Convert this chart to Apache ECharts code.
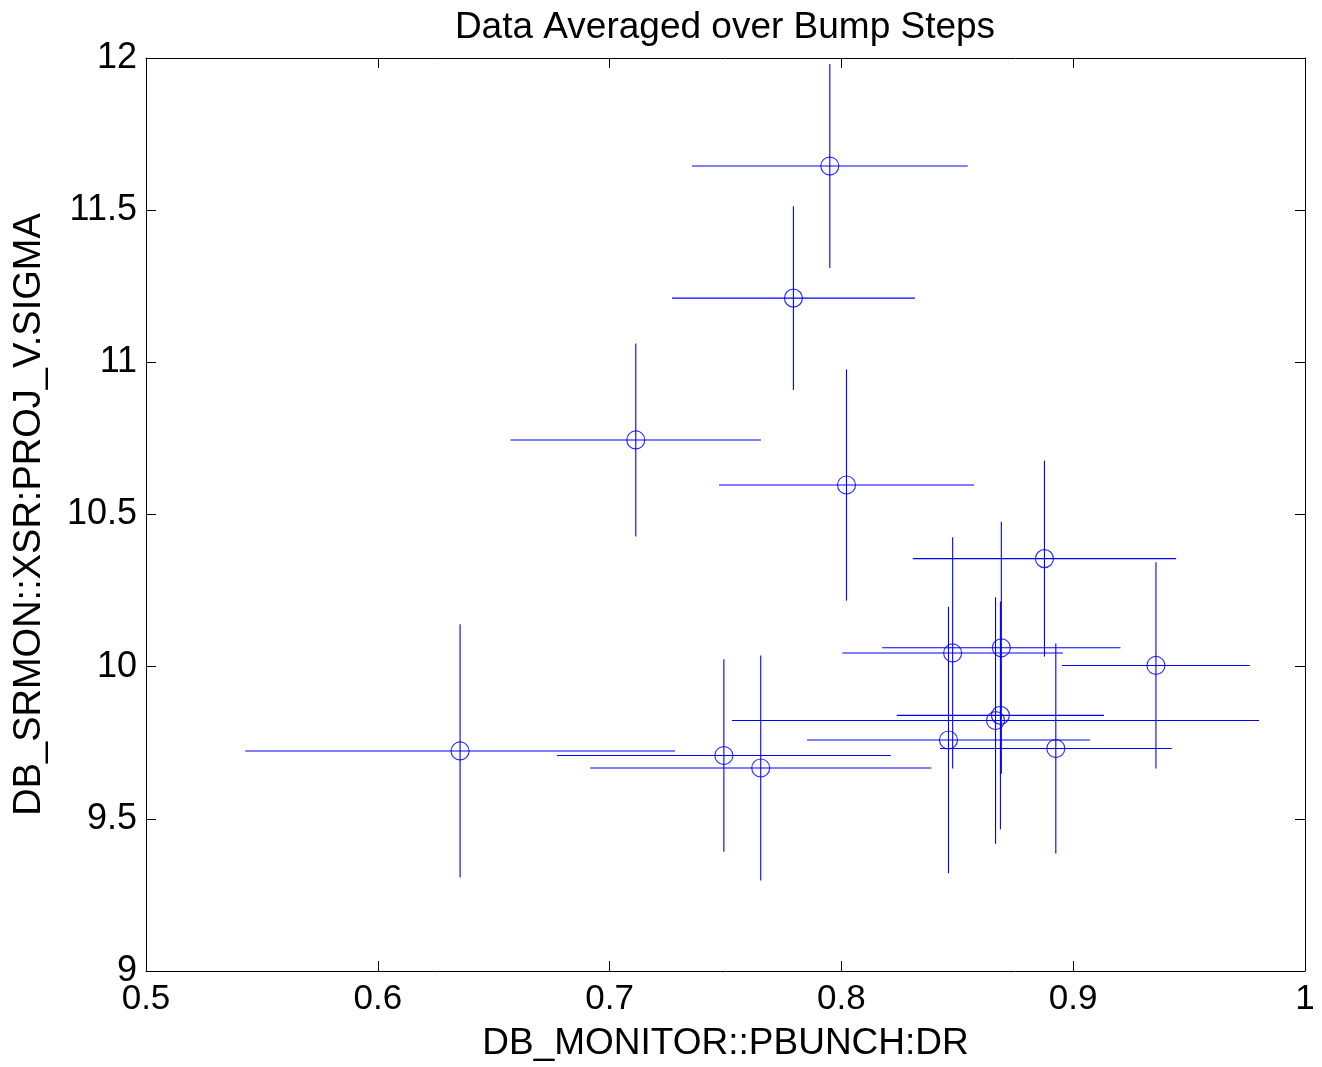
<!DOCTYPE html>
<html>
<head>
<meta charset="utf-8">
<script src="https://cdn.jsdelivr.net/npm/echarts@6/dist/echarts.min.js"></script>
<style>
html,body{margin:0;padding:0;background:#fff;}
#chart{width:1322px;height:1067px;}
</style>
</head>
<body>
<div id="chart"></div>
<script>
// Data (centre value and symmetric error half-width)
const xVals = [0.795, 0.7793, 0.7113, 0.8022, 0.8876, 0.848, 0.869, 0.9357, 0.8686, 0.8665, 0.8462, 0.8925, 0.6355, 0.7493, 0.7652];
const yVals = [11.645, 11.211, 10.745, 10.597, 10.355, 10.045, 10.062, 10.004, 9.840, 9.823, 9.759, 9.731, 9.723, 9.708, 9.667];
const xErr  = [0.0595, 0.0524, 0.054, 0.055, 0.0568, 0.0476, 0.0514, 0.0405, 0.0447, 0.1137, 0.061, 0.050, 0.0927, 0.072, 0.0736];
const yErr  = [0.335, 0.302, 0.317, 0.38, 0.322, 0.38, 0.414, 0.339, 0.374, 0.405, 0.438, 0.345, 0.416, 0.316, 0.37];

const xTicks = [0.5, 0.6, 0.7, 0.8, 0.9, 1];
const yTicks = [9, 9.5, 10, 10.5, 11, 11.5, 12];

const titleText = 'Data Averaged over Bump Steps';
const xName = 'DB_MONITOR::PBUNCH:DR';
const yName = 'DB_SRMON::XSR:PROJ_V.SIGMA';

const FONT = '"Liberation Sans", Arial, Helvetica, sans-serif';
const BLUE = '#0000ff';

const points = xVals.map((x, i) => [x, yVals[i]]);
const errData = xVals.map((x, i) => [x, yVals[i], xErr[i], yErr[i]]);

const fmt = v => String(+(+v).toFixed(2));

function axisCommon(pos, showLabel, ticks, labelSize) {
  return {
    type: 'value',
    position: pos,
    min: ticks[0],
    max: ticks[ticks.length - 1],
    interval: ticks[1] - ticks[0],
    scale: true,
    splitLine: { show: false },
    axisLine: { show: true, onZero: false, lineStyle: { color: '#000', width: 1 } },
    axisTick: { show: true, inside: true, length: 10, lineStyle: { color: '#000', width: 1 } },
    axisLabel: {
      show: showLabel,
      color: '#000',
      fontFamily: FONT,
      fontSize: labelSize,
      formatter: fmt
    }
  };
}

const xBottom = Object.assign(axisCommon('bottom', true, xTicks, 35), {
  name: xName, nameLocation: 'middle', nameGap: 54,
  nameTextStyle: { color: '#000', fontFamily: FONT, fontSize: 37 }
});
xBottom.axisLabel.margin = 11;
const xTop = axisCommon('top', false, xTicks, 35);
const yLeft = Object.assign(axisCommon('left', true, yTicks, 36), {
  name: yName, nameLocation: 'middle', nameGap: 97,
  nameTextStyle: { color: '#000', fontFamily: FONT, fontSize: 38 }
});
yLeft.axisLabel.margin = 9;
const yRight = axisCommon('right', false, yTicks, 36);

const option = {
  animation: false,
  backgroundColor: '#fff',
  title: {
    text: titleText,
    left: 720, textAlign: 'center', top: 4,
    textStyle: { color: '#000', fontFamily: FONT, fontSize: 37, fontWeight: 'normal' }
  },
  grid: { left: 146, right: 17, top: 58, bottom: 95, containLabel: false },
  xAxis: [xBottom, xTop],
  yAxis: [yLeft, yRight],
  series: [
    {
      type: 'custom',
      xAxisIndex: 0, yAxisIndex: 0,
      data: errData,
      renderItem: function (params, api) {
        const x = api.value(0), y = api.value(1), dx = api.value(2), dy = api.value(3);
        const l = api.coord([x - dx, y]);
        const r = api.coord([x + dx, y]);
        const t = api.coord([x, y + dy]);
        const b = api.coord([x, y - dy]);
        const st = { stroke: BLUE, lineWidth: 1.1, fill: null };
        return {
          type: 'group',
          children: [
            { type: 'line', shape: { x1: l[0], y1: l[1], x2: r[0], y2: r[1] }, style: st },
            { type: 'line', shape: { x1: t[0], y1: t[1], x2: b[0], y2: b[1] }, style: st }
          ]
        };
      },
      z: 2
    },
    {
      type: 'scatter',
      xAxisIndex: 0, yAxisIndex: 0,
      data: points,
      symbol: 'circle',
      symbolSize: 18,
      itemStyle: { color: 'rgba(0,0,0,0)', borderColor: BLUE, borderWidth: 1.2 },
      z: 3
    }
  ]
};

const chart = echarts.init(document.getElementById('chart'), null, { renderer: 'canvas' });
chart.setOption(option);
</script>
</body>
</html>
